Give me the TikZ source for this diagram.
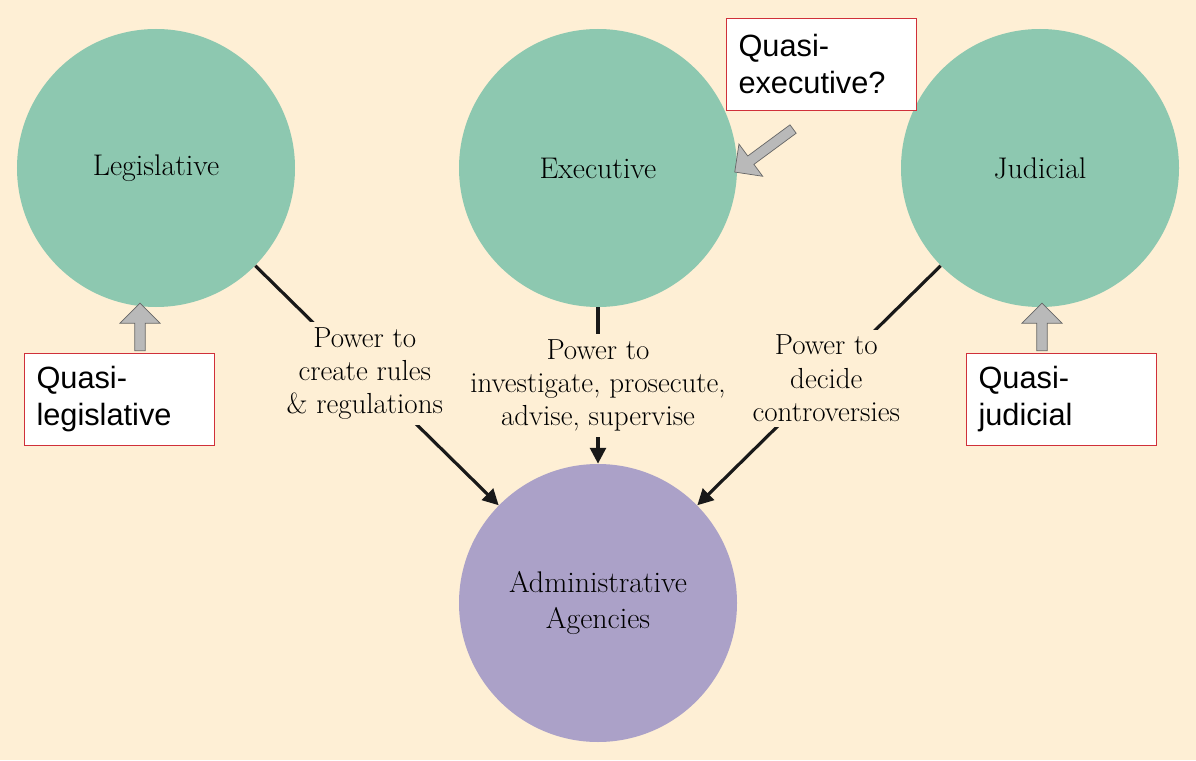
\documentclass[tikz,border=0pt]{standalone}
\usepackage{fontspec}
\newfontfamily\arialfont{Liberation Sans}
\usetikzlibrary{arrows.meta,shapes.arrows,positioning}
\definecolor{bgcream}{HTML}{FEEFD5}
\definecolor{branchgreen}{HTML}{8DC8B0}
\definecolor{agencypurple}{HTML}{ABA1C8}
\definecolor{boxred}{HTML}{D0303A}
\tikzset{
  branch/.style={circle, fill=branchgreen, minimum size=5.56cm, inner sep=0pt, font=\fontsize{17}{21}\selectfont},
  power/.style={-{Triangle[length=9pt,width=9pt]}, line width=1.8pt, draw=black!90},
  powerlabel/.style={fill=bgcream, align=center, inner sep=3pt, font=\fontsize{16.5}{19}\selectfont},
  quasi/.style={draw=boxred, fill=white, minimum width=3.8cm, minimum height=1.84cm, align=left, text width=3.3cm, font=\arialfont\fontsize{17.5}{21}\selectfont},
  block/.style={single arrow, draw=black!60, fill=gray!55, minimum height=0.95cm, minimum width=0.8cm, single arrow head extend=0.12cm, inner sep=1pt}
}
\begin{document}
\begin{tikzpicture}
\fill[bgcream] (0,0) rectangle (23.92,15.2);
\useasboundingbox (0,0) rectangle (23.92,15.2);
% the three branches and the agencies
\node[branch] (leg) at (3.12,11.84) {Legislative};
\node[branch] (exe) at (11.96,11.84) {Executive};
\node[branch] (jud) at (20.8,11.84) {Judicial};
\node[branch, fill=agencypurple, align=center] (adm) at (11.96,3.14) {Administrative\\Agencies};
% delegated powers
\draw[power] (leg) -- (adm)
  node[powerlabel, pos=0.45] {Power to\\create rules\\\& regulations};
\draw[power] (exe) -- (adm)
  node[powerlabel, pos=0.5] {Power to\\investigate, prosecute,\\advise, supervise};
\draw[power] (jud) -- (adm)
  node[powerlabel, pos=0.47] {Power to\\decide\\controversies};
% quasi boxes
\node[quasi] (qleg) at (2.38,7.22) {Quasi-\\legislative};
\node[quasi] (qexe) at (16.42,13.92) {Quasi-\\executive?};
\node[quasi] (qjud) at (21.22,7.22) {Quasi-\\judicial};
\node[block, rotate=90] (aleg) at (2.8,8.61) {};
\node[block, rotate=90] (ajud) at (20.84,8.61) {};
\node[block, rotate=-143.6, minimum height=1.45cm] (aexe) at (15.32,12.22) {};
\end{tikzpicture}
\end{document}
